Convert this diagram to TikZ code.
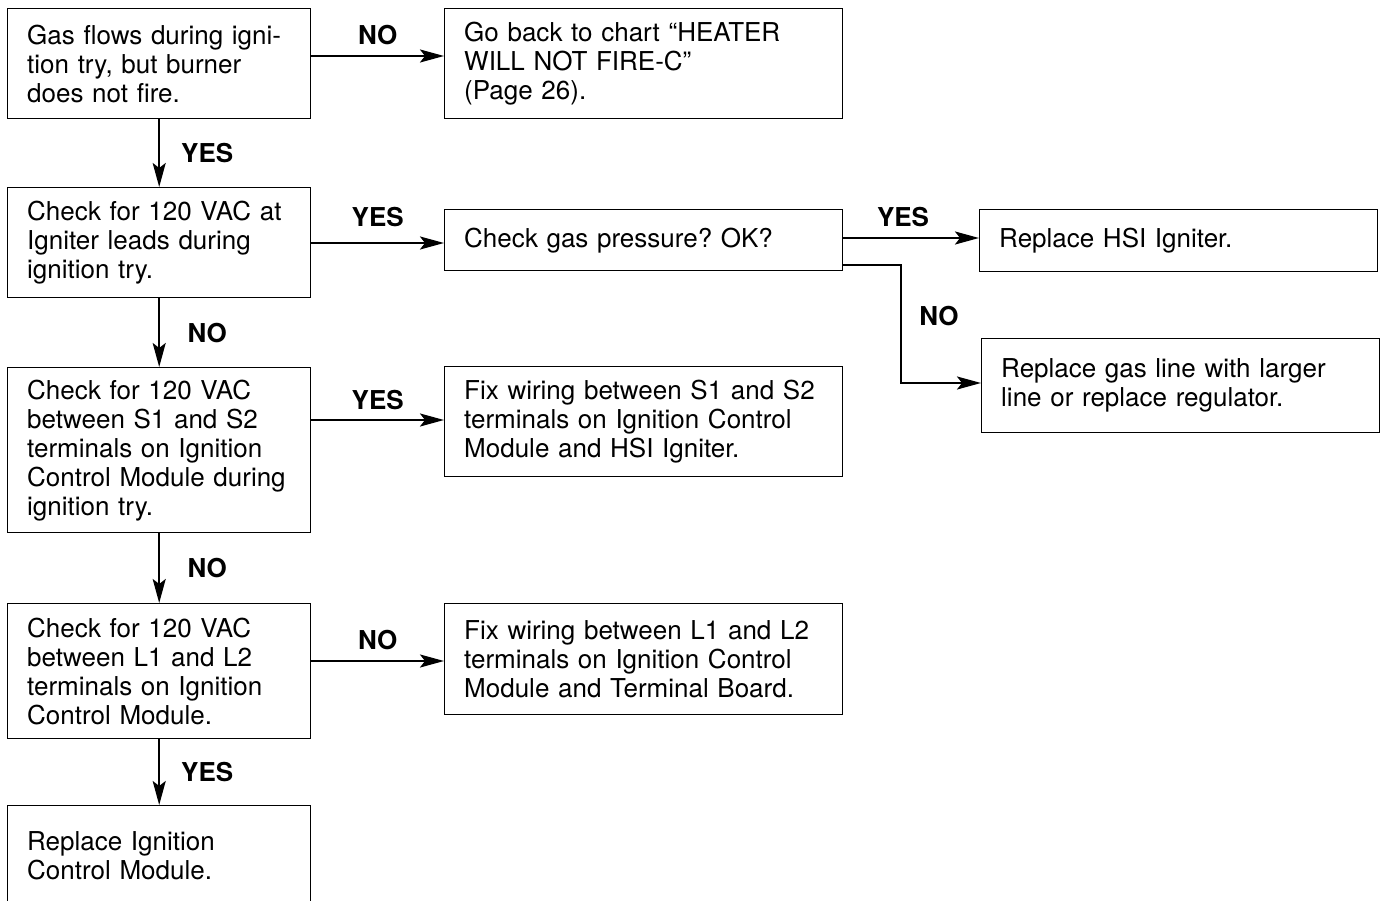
\documentclass[tikz,border=0pt]{standalone}
\usepackage{fontspec}
\setmainfont{TeX Gyre Heros}
\usetikzlibrary{arrows.meta}
\begin{document}
\frenchspacing
\begin{tikzpicture}[x=1pt,y=-1pt,
  box/.style={draw, line width=1.4pt, inner xsep=19.5pt, inner ysep=0pt, align=left,
    anchor=north west, font=\fontsize{26}{29}\selectfont},
  narrowbox/.style={box, minimum width=303pt, text width=264pt},
  widebox/.style={box, minimum width=398pt, text width=359pt},
  lab/.style={font=\fontsize{26}{28}\selectfont\bfseries, inner sep=0pt},
  arr/.style={line width=2.2pt, -{Stealth[length=24pt,width=13pt,inset=5pt]}}]
\useasboundingbox (0,0) rectangle (1383,901);
\clip (0,0) rectangle (1383,901);

% boxes
\node[narrowbox, minimum height=110pt] (a) at (7,8) {Gas flows during igni-\\tion try, but burner\\does not fire.};
\node[widebox, minimum height=110pt] (b) at (444,8) {Go back to chart “HEATER\\WILL NOT FIRE-C”\\(Page 26).};
\node[narrowbox, minimum height=110pt] (c) at (7,187) {Check for 120 VAC at\\Igniter leads during\\ignition try.};
\node[widebox, minimum height=61pt] (d) at (444,209) {Check gas pressure? OK?};
\node[widebox, minimum height=62pt] (e) at (979,209) {Replace HSI Igniter.};
\node[widebox, minimum height=94pt] (f) at (981,338) {Replace gas line with larger\\line or replace regulator.};
\node[narrowbox, minimum height=165pt] (g) at (7,367) {Check for 120 VAC\\between S1 and S2\\terminals on Ignition\\Control Module during\\ignition try.};
\node[widebox, minimum height=110pt] (h) at (444,366) {Fix wiring between S1 and S2\\terminals on Ignition Control\\Module and HSI Igniter.};
\node[narrowbox, minimum height=135pt] (i) at (7,603) {Check for 120 VAC\\between L1 and L2\\terminals on Ignition\\Control Module.};
\node[widebox, minimum height=111pt] (j) at (444,603) {Fix wiring between L1 and L2\\terminals on Ignition Control\\Module and Terminal Board.};
\node[narrowbox, minimum height=100pt] (k) at (7,805) {Replace Ignition\\Control Module.};

% helper coordinates
\coordinate (yab) at (0,56);
\coordinate (ycd) at (0,243);
\coordinate (yde) at (0,238);
\coordinate (ydf) at (0,265);
\coordinate (bend) at (901,265);
\coordinate (yf) at (0,383);
\coordinate (ygh) at (0,420);
\coordinate (yij) at (0,661);

% horizontal connectors
\draw[arr] (a.east |- yab) -- node[lab, yshift=21pt] (l1) {NO} (b.west |- yab);
\draw[arr] (c.east |- ycd) -- node[lab, yshift=26pt] (l3) {YES} (d.west |- ycd);
\draw[arr] (d.east |- yde) -- node[lab, pos=0.44, yshift=21pt] (l4) {YES} (e.west |- yde);
\draw[arr] (d.east |- ydf) -- (bend) |- (f.west |- yf);
\node[lab] (l5) at (939,316) {NO};
\draw[arr] (g.east |- ygh) -- node[lab, yshift=20pt] (l7) {YES} (h.west |- ygh);
\draw[arr] (i.east |- yij) -- node[lab, yshift=21pt] (l9) {NO} (j.west |- yij);

% vertical connectors
\draw[arr] (a.south) -- node[lab, xshift=48pt] (l2) {YES} (c.north);
\draw[arr] (c.south) -- node[lab, xshift=48pt] (l6) {NO} (g.north);
\draw[arr] (g.south) -- node[lab, xshift=48pt] (l8) {NO} (i.north);
\draw[arr] (i.south) -- node[lab, xshift=48pt] (l10) {YES} (k.north);
\end{tikzpicture}
\end{document}
